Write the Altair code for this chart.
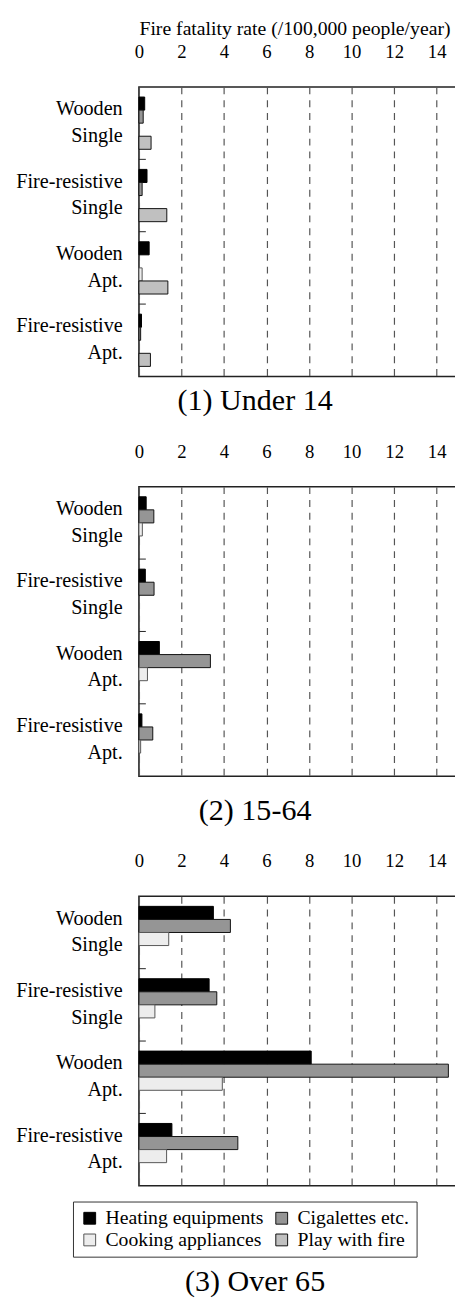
import altair as alt
import pandas as pd

FONT = "Liberation Serif"
NB = "\u00a0"

categories = ["Wooden Single", "Fire-resistive Single", "Wooden Apt.", "Fire-resistive Apt."]
causes = ["Heating equipments", "Cigalettes etc.", "Cooking appliances", "Play with fire"]

# (1) Under 14
u14_heating = [0.27, 0.38, 0.48, 0.12]
u14_cig = [0.20, 0.15, 0.0, 0.08]
u14_cooking = [0.0, 0.0, 0.15, 0.0]
u14_play = [0.57, 1.31, 1.36, 0.54]

# (2) 15-64
mid_heating = [0.34, 0.30, 0.96, 0.14]
mid_cig = [0.70, 0.71, 3.36, 0.65]
mid_cooking = [0.16, 0.0, 0.40, 0.08]
mid_play = [0.0, 0.0, 0.0, 0.0]

# (3) Over 65
old_heating = [3.50, 3.30, 8.10, 1.55]
old_cig = [4.30, 3.66, 14.55, 4.65]
old_cooking = [1.40, 0.75, 3.92, 1.30]
old_play = [0.0, 0.0, 0.0, 0.0]

x_ticks = [0, 2, 4, 6, 8, 10, 12, 14]

fills = ["#000000", "#959595", "#ededed", "#c0c0c0"]
strokes = ["#000000", "#111111", "#555555", "#111111"]


def make_df(series):
    rows = []
    for cause, vals in zip(causes, series):
        for cat, v in zip(categories, vals):
            if v > 0:
                rows.append({"cat": cat, "cause": cause, "rate": v})
    return pd.DataFrame(rows)


label_expr = (
    "datum.value == 'Wooden Single' ? ['Wooden', 'Single" + NB * 2 + "'] : "
    "datum.value == 'Fire-resistive Single' ? ['Fire-resistive', 'Single" + NB * 5 + "'] : "
    "datum.value == 'Wooden Apt.' ? ['Wooden', 'Apt." + NB * 3 + "'] : "
    "['Fire-resistive', 'Apt." + NB * 7 + "']"
)

ticks_df = pd.DataFrame({"cat": categories[1:]})


def yaxis():
    return alt.Axis(ticks=False, domain=False, labelExpr=label_expr, labelAlign="right",
                    labelBaseline="line-bottom", labelFont=FONT, labelFontSize=20.5,
                    labelColor="black", labelLineHeight=27, labelPadding=17, labelLimit=300)


def panel(series, subtitle, sub_offset, show_title=False, legend=None):
    df = make_df(series)
    xaxis = alt.Axis(
        orient="top", values=x_ticks, grid=True, gridDash=[7, 6], gridColor="#555555",
        gridWidth=1.2, ticks=False, labelPadding=26, labelFontSize=19, labelFont=FONT,
        labelColor="black", labelFlush=False, domain=False,
        title="Fire fatality rate (/100,000 people/year)" if show_title else None,
        titleFont=FONT, titleFontSize=20, titleFontWeight="normal", titleColor="black",
        titlePadding=4, titleAnchor="start",
    )
    yscale = alt.Scale(domain=categories, paddingInner=0, paddingOuter=0)
    bars = alt.Chart(df).mark_bar(strokeWidth=1).encode(
        x=alt.X("rate:Q", scale=alt.Scale(domain=[0, 15], nice=False, zero=True), axis=xaxis),
        y=alt.Y("cat:N", sort=categories, scale=yscale, title=None, axis=yaxis()),
        yOffset=alt.YOffset("cause:N", sort=causes,
                            scale=alt.Scale(domain=causes, paddingInner=0, paddingOuter=0.77)),
        fill=alt.Fill("cause:N", scale=alt.Scale(domain=causes, range=fills), legend=legend),
        stroke=alt.Stroke("cause:N", scale=alt.Scale(domain=causes, range=strokes), legend=None),
    )
    ticks = alt.Chart(ticks_df).mark_rule(color="#222222", strokeWidth=1).encode(
        y=alt.Y("cat:N", sort=categories, scale=yscale, bandPosition=0, title=None, axis=yaxis()),
        x=alt.value(0), x2=alt.value(7),
    )
    return alt.layer(bars, ticks).properties(
        width=324, height=294,
        title=alt.TitleParams(subtitle, orient="bottom", anchor="middle", frame="group", dx=-44,
                              fontSize=30.5, font=FONT, fontWeight="normal", color="black",
                              offset=sub_offset),
    )


legend3 = alt.Legend(
    orient="none", legendX=-67, legendY=310, direction="horizontal", columns=2, title=None,
    labelFont=FONT, labelFontSize=20, labelColor="black", labelLimit=400, symbolType="square",
    symbolSize=144, symbolStrokeColor="black", symbolStrokeWidth=1, strokeColor="#333333",
    fillColor="white", padding=7, rowPadding=2, columnPadding=8, labelOffset=6,
    labelExpr="datum.label == 'Cigalettes etc.' ? datum.label + '" + NB * 8 + "' : datum.label",
)

p1 = panel([u14_heating, u14_cig, u14_cooking, u14_play], "(1) Under 14", 10, show_title=True)
p2 = panel([mid_heating, mid_cig, mid_cooking, mid_play], "(2) 15-64", 20)
p3 = panel([old_heating, old_cig, old_cooking, old_play], "(3) Over 65", 10, legend=legend3)

chart = alt.vconcat(p1, p2, p3, spacing=24).resolve_scale(
    fill="independent", stroke="independent"
).resolve_legend(fill="independent").properties(
    padding={"left": 7, "top": 0, "right": -4, "bottom": 5}
).configure(background="white").configure_view(stroke="#222222", strokeWidth=1.6)

chart.save("out.html", embed_options={"renderer": "svg", "actions": False})
